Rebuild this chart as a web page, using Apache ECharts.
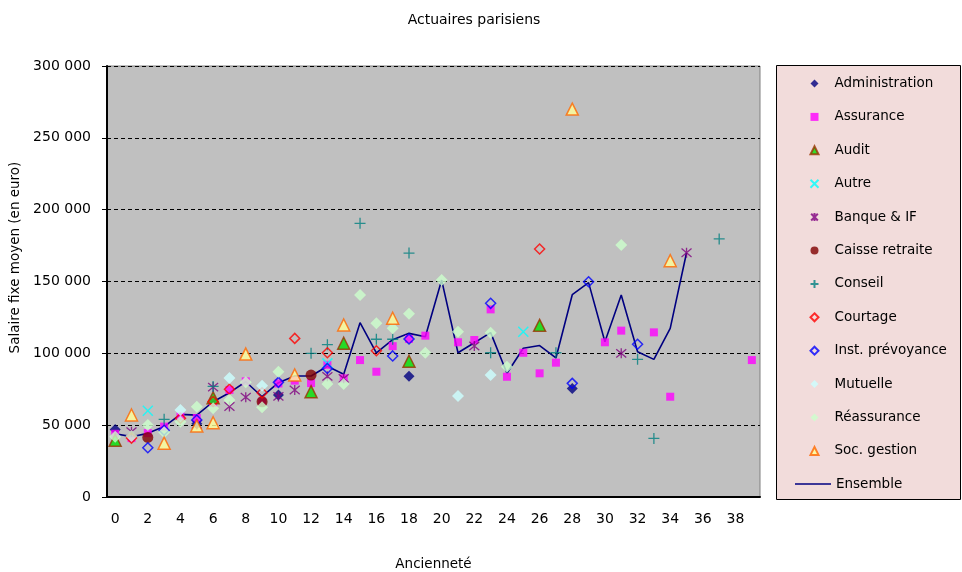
<!DOCTYPE html>
<html>
<head>
<meta charset="utf-8">
<script src="https://cdn.jsdelivr.net/npm/echarts@6/dist/echarts.min.js"></script>
<style>html,body{margin:0;padding:0;background:#fff}#c{width:962px;height:572px}</style>
</head>
<body>
<div id="c"></div>
<script>
const categories = Array.from({length: 40}, (_, i) => String(i));
const yTicks = [0, 50000, 100000, 150000, 200000, 250000, 300000];

const administration = [[0,47000],[5,51000],[10,71000],[18,84000],[28,75500]];
const assurance = [[0,44000],[1,41000],[2,44500],[3,49000],[4,56000],[5,55000],[6,65500],[7,74500],[8,80500],[9,66300],[10,79000],[11,81000],[12,79300],[13,92000],[14,82600],[15,95300],[16,87200],[17,105000],[18,110000],[19,112300],[21,107700],[22,109300],[23,130600],[24,83700],[25,100400],[26,86100],[27,93500],[30,107700],[31,115800],[33,114600],[34,69800],[39,95300]];
const audit = [[0,39500],[6,69000],[12,73300],[14,107000],[18,94500],[26,119500]];
const autre = [[2,60000],[13,93000],[25,115000]];
const banque = [[1,45500],[5,50500],[6,76500],[7,63000],[8,69500],[10,70000],[11,74500],[13,84000],[14,82600],[22,105100],[31,100000],[35,170000]];
const caisse = [[2,41500],[9,66300],[12,84900]];
const conseil = [[3,54100],[6,77000],[12,100000],[13,106000],[15,190500],[16,109800],[17,109800],[18,169800],[23,100400],[27,100400],[32,95800],[33,40800],[37,179600]];
const courtage = [[1,41000],[4,54800],[6,66500],[7,75000],[9,72500],[11,110400],[13,100400],[16,101800],[26,172600]];
const prevoyance = [[2,34300],[3,46500],[5,53600],[10,79800],[13,89500],[17,98200],[18,110000],[23,134800],[28,79100],[29,149800],[32,106300]];
const mutuelle = [[4,60500],[7,82800],[9,77500],[21,70300],[23,84900]];
const reassurance = [[0,42000],[1,42500],[2,50100],[3,45000],[4,52400],[5,62800],[6,61700],[7,67500],[8,79800],[9,62400],[10,87200],[13,78600],[14,78600],[15,140600],[16,120900],[17,117400],[18,127600],[19,100400],[20,151000],[21,115000],[23,114400],[24,90700],[31,175400]];
const socGestion = [[1,57100],[3,37500],[5,49400],[6,51700],[8,99500],[11,84900],[14,119700],[17,124400],[28,270000],[34,164500]];
const ensemble = [44000,42000,44300,49000,57500,57000,66300,72600,80200,69800,79600,84200,84200,91000,85400,121300,100400,109500,113900,111600,151000,100400,107400,114400,86100,103500,105400,96800,140800,149200,108100,140600,101100,95800,117400,170000];

const XPATH = 'path://M0,0L10,10M10,0L0,10';
const STAR = 'path://M0,0L10,10M10,0L0,10M5,-1L5,11';
const PLUS = 'path://M5,0L5,10M0,5L10,5';

function sc(name, data, symbol, size, itemStyle) {
  return {name, type: 'scatter', data, symbol, symbolSize: size, itemStyle, z: 3};
}

const scatterSeries = [
  sc('Administration', administration, 'diamond', 11, {color: '#000080'}),
  sc('Assurance', assurance, 'rect', 8, {color: '#FF00FF'}),
  sc('Audit', audit, 'triangle', 12, {color: '#00E000', borderColor: '#993300', borderWidth: 1.5}),
  sc('Autre', autre, XPATH, 10, {color: 'transparent', borderColor: '#00FFFF', borderWidth: 1.5}),
  sc('Banque & IF', banque, STAR, 10, {color: 'transparent', borderColor: '#800080', borderWidth: 1.3}),
  sc('Caisse retraite', caisse, 'circle', 11, {color: '#800000'}),
  sc('Conseil', conseil, PLUS, 11, {color: 'transparent', borderColor: '#008080', borderWidth: 1.3}),
  sc('Courtage', courtage, 'diamond', 10, {color: 'transparent', borderColor: '#FF0000', borderWidth: 1.5}),
  sc('Inst. prévoyance', prevoyance, 'diamond', 10, {color: 'transparent', borderColor: '#0000FF', borderWidth: 1.5}),
  sc('Mutuelle', mutuelle, 'diamond', 12, {color: '#CCFFFF'}),
  sc('Réassurance', reassurance, 'diamond', 12, {color: '#CCFFCC'}),
  sc('Soc. gestion', socGestion, 'triangle', 12, {color: '#FFFF99', borderColor: '#FF6600', borderWidth: 1.5})
];
const lineSeries = {name: 'Ensemble', type: 'line', data: ensemble, symbol: 'none', showSymbol: false,
  lineStyle: {color: '#000080', width: 1.6}, itemStyle: {color: '#000080'}, z: 2};
const series = scatterSeries.concat([lineSeries]);

const chart = echarts.init(document.getElementById('c'));
chart.setOption({
  animation: false,
  textStyle: {fontFamily: 'DejaVu Sans'},
  title: {text: 'Actuaires parisiens', left: 469, top: 8, textAlign: 'center',
    textStyle: {fontSize: 14, fontWeight: 'normal', color: '#000', fontFamily: 'DejaVu Sans'}},
  graphic: [{type: 'rect', z: -10, shape: {x: 776.5, y: 65.5, width: 184, height: 434},
    style: {fill: '#F2DCDB', stroke: '#000', lineWidth: 1}}],
  legend: [{
    orient: 'vertical', left: 776, top: 66, padding: [10.5, 0, 0, 33.5],
    itemWidth: 8, itemHeight: 8, itemGap: 19.4,
    textStyle: {fontSize: 13.5, color: '#000', fontFamily: 'DejaVu Sans', padding: [0, 0, 0, 11]},
    data: scatterSeries.map(s => s.name)
  }, {
    orient: 'vertical', left: 776, top: 66, padding: [411, 0, 0, 19],
    itemWidth: 36, itemHeight: 1.5,
    textStyle: {fontSize: 13.5, color: '#000', fontFamily: 'DejaVu Sans'},
    data: [{name: 'Ensemble', icon: 'rect'}]
  }],
  grid: {left: 107, right: 202, top: 66, bottom: 75, outerBoundsMode: 'none', containLabel: false,
    show: true, backgroundColor: '#C0C0C0', borderColor: '#808080', borderWidth: 1},
  xAxis: {
    type: 'category', data: categories, boundaryGap: true,
    name: 'Ancienneté', nameLocation: 'middle', nameGap: 60,
    nameTextStyle: {fontSize: 13.5, color: '#000'},
    axisLine: {lineStyle: {color: '#000', width: 2}},
    axisTick: {interval: 0, length: 5, lineStyle: {color: '#000'}},
    axisLabel: {interval: 1, fontSize: 14, color: '#000', margin: 15},
    splitLine: {show: false}
  },
  yAxis: {
    type: 'value', min: yTicks[0], max: yTicks[yTicks.length - 1], interval: 50000,
    name: 'Salaire fixe moyen (en euro)', nameLocation: 'middle', nameGap: 82,
    nameTextStyle: {fontSize: 13.5, color: '#000', padding: [0, 0, 0, 48]},
    axisLine: {show: true, lineStyle: {color: '#000', width: 2}},
    axisTick: {show: true, length: 5, lineStyle: {color: '#000'}},
    axisLabel: {fontSize: 14, color: '#000', margin: 16,
      formatter: v => String(v).replace(/\B(?=(\d{3})+(?!\d))/g, ' ')},
    splitLine: {show: true, lineStyle: {color: '#000', type: [4, 3], width: 1}}
  },
  series
});
</script>
</body>
</html>
